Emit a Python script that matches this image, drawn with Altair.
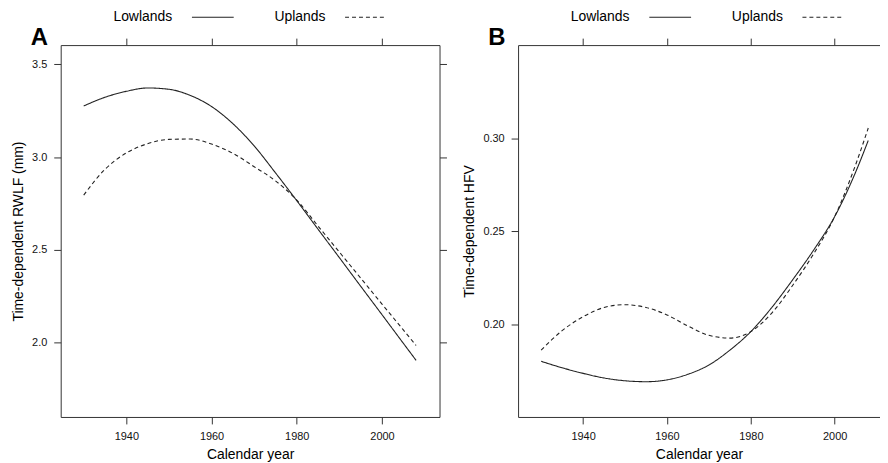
import altair as alt
import pandas as pd

# ---- data ----
years = [1930, 1935, 1940, 1945, 1950, 1955, 1960, 1965, 1970, 1975, 1980,
         1985, 1990, 1995, 2000, 2005, 2008]
rwlf_lowlands = [3.275, 3.322, 3.354, 3.372, 3.365, 3.332, 3.272, 3.180, 3.060,
                 2.915, 2.765, 2.611, 2.458, 2.304, 2.151, 1.997, 1.905]
rwlf_uplands = [2.795, 2.934, 3.022, 3.072, 3.095, 3.097, 3.070, 3.020, 2.948,
                2.872, 2.768, 2.628, 2.488, 2.348, 2.208, 2.069, 1.985]
hfv_lowlands = [0.180, 0.1765, 0.1735, 0.1710, 0.1695, 0.1690, 0.1700, 0.1730,
                0.1780, 0.1860, 0.1960, 0.2090, 0.2240, 0.2400, 0.2580, 0.2820, 0.2990]
hfv_uplands = [0.186, 0.1965, 0.2040, 0.2090, 0.2105, 0.2090, 0.2050, 0.1990,
               0.1940, 0.1925, 0.1960, 0.2060, 0.2210, 0.2380, 0.2580, 0.2860, 0.3057]
regions = ["Lowlands", "Uplands"]
x_ticks = [1940, 1960, 1980, 2000]
rwlf_ticks = [2.0, 2.5, 3.0, 3.5]
hfv_ticks = [0.20, 0.25, 0.30]

def long_df(low, up):
    rows = []
    for y, v in zip(years, low):
        rows.append({"year": y, "value": v, "region": regions[0]})
    for y, v in zip(years, up):
        rows.append({"year": y, "value": v, "region": regions[1]})
    return pd.DataFrame(rows)

FONT = "Liberation Sans"
INK = "#222222"
FRAME = "#333333"


def panel(df, xdom, ydom, yticks, ytitle, letter, width, height, right_axis, yfmt):
    xs = alt.Scale(domain=xdom, nice=False, zero=False)
    ys = alt.Scale(domain=ydom, nice=False, zero=False)
    dash = alt.StrokeDash("region:N",
                          scale=alt.Scale(domain=regions, range=[[1, 0], [4, 3]]),
                          legend=None)
    lines = alt.Chart(df).mark_line(color=INK, strokeWidth=1.1, interpolate="monotone").encode(
        x=alt.X("year:Q", scale=xs,
                axis=alt.Axis(orient="bottom", values=x_ticks, format="d",
                              title="Calendar year", labelPadding=7, titlePadding=6)),
        y=alt.Y("value:Q", scale=ys,
                axis=alt.Axis(orient="left", values=yticks, format=yfmt,
                              title=ytitle, labelPadding=7, titlePadding=6)),
        strokeDash=dash,
    )
    ghost_y = alt.Axis(orient="right", values=yticks, labels=False, title=None) if right_axis \
        else alt.Axis(orient="right", values=yticks, labels=False, ticks=False, domain=False, title=None)
    ghost = alt.Chart(df).mark_line(opacity=0).encode(
        x=alt.X("year:Q", scale=xs,
                axis=alt.Axis(orient="top", values=x_ticks, labels=False, title=None)),
        y=alt.Y("value:Q", scale=ys, axis=ghost_y),
    )
    one = pd.DataFrame({"t": [letter]})
    lab = alt.Chart(one).mark_text(font=FONT, fontSize=24, fontWeight="bold",
                                   align="left", baseline="alphabetic", color="#000").encode(
        text="t:N", x=alt.value(-30), y=alt.value(0))
    ly = -28
    t1 = alt.Chart(pd.DataFrame({"t": [regions[0]]})).mark_text(
        font=FONT, fontSize=14, align="left", baseline="middle", color="#000").encode(
        text="t:N", x=alt.value(53), y=alt.value(ly))
    t2 = alt.Chart(pd.DataFrame({"t": [regions[1]]})).mark_text(
        font=FONT, fontSize=14, align="left", baseline="middle", color="#000").encode(
        text="t:N", x=alt.value(215), y=alt.value(ly))
    r1 = alt.Chart(one).mark_rule(color=INK, strokeWidth=1.1).encode(
        x=alt.value(132), x2=alt.value(174), y=alt.value(ly))
    r2 = alt.Chart(one).mark_rule(color=INK, strokeWidth=1.1, strokeDash=[4, 3]).encode(
        x=alt.value(286), x2=alt.value(328), y=alt.value(ly))
    return alt.layer(lines, ghost, lab, t1, r1, t2, r2).properties(width=width, height=height)


pa = panel(long_df(rwlf_lowlands, rwlf_uplands), [1924.6, 2013.5], [1.6, 3.603],
           rwlf_ticks, "Time-dependent RWLF (mm)", "A", 381, 374, True, ".1f")
pb = panel(long_df(hfv_lowlands, hfv_uplands), [1924.5, 2010.8], [0.15, 0.3504],
           hfv_ticks, "Time-dependent HFV", "B", 364, 374, False, ".2f")

chart = alt.hconcat(pa, pb, spacing=79, bounds="flush").properties(
    padding={"left": 3, "top": 1, "right": 0, "bottom": 0}
).configure_view(stroke=None).configure_axis(
    grid=False, labelFont=FONT, titleFont=FONT, labelFontSize=11, titleFontSize=14,
    titleFontWeight="normal", labelColor="#111", titleColor="#000",
    tickColor=FRAME, domainColor=FRAME, tickSize=7, domainWidth=1, tickWidth=1,
).configure_text(font=FONT)

chart.save("out.html", embed_options={"renderer": "svg", "actions": False})
